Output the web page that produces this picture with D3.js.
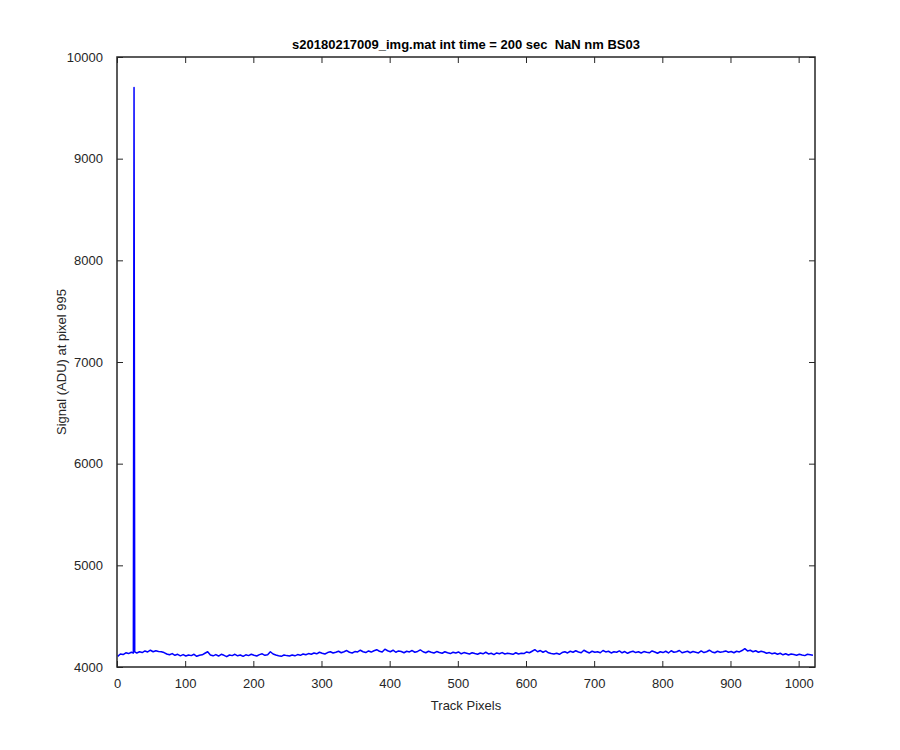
<!DOCTYPE html>
<html>
<head>
<meta charset="utf-8">
<script src="https://cdn.jsdelivr.net/npm/d3@7"></script>
<style>
  body { margin: 0; background: #ffffff; }
  svg { display: block; }
  text { font-family: "Liberation Sans", Arial, Helvetica, sans-serif; }
</style>
</head>
<body>
<svg id="chart" width="900" height="750"></svg>
<script>
// ---- data ----
const titleText = "s20180217009_img.mat int time = 200 sec  NaN nm BS03";
const xLabelText = "Track Pixels";
const yLabelText = "Signal (ADU) at pixel 995";
const xTicks = [0, 100, 200, 300, 400, 500, 600, 700, 800, 900, 1000];
const yTicks = [4000, 5000, 6000, 7000, 8000, 9000, 10000];
const xDomain = [0, 1024];
const yDomain = [4000, 10000];
// sampled every 4 track pixels, starting at pixel 1
const firstPixel = 1;
const pixelStep = 4;
const signal = [
  4105, 4128, 4122, 4140, 4132, 4145, 9700, 4138, 4150, 4142, 4158, 4148, 4165, 4150, 4160, 4152,
  4150, 4142, 4128, 4120, 4132, 4115, 4125, 4110, 4122, 4108, 4118, 4112, 4125, 4105, 4115, 4120,
  4135, 4150, 4118, 4110, 4122, 4108, 4125, 4115, 4102, 4118, 4112, 4125, 4110, 4118, 4105, 4120,
  4112, 4125, 4115, 4108, 4122, 4130, 4115, 4120, 4150, 4128, 4118, 4110, 4105, 4118, 4112, 4108,
  4118, 4110, 4122, 4115, 4128, 4120, 4132, 4125, 4138, 4130, 4145, 4135, 4128, 4142, 4150, 4138,
  4145, 4155, 4140, 4150, 4162, 4145, 4138, 4152, 4148, 4165, 4150, 4142, 4158, 4147, 4160, 4170,
  4155, 4148, 4175, 4160, 4150, 4165, 4145, 4158, 4152, 4140, 4155, 4148, 4162, 4145, 4153, 4168,
  4150, 4140, 4155, 4145, 4138, 4152, 4142, 4135, 4150, 4140, 4132, 4145, 4138, 4148, 4130, 4142,
  4135, 4128, 4140, 4132, 4125, 4138, 4130, 4145, 4128, 4135, 4122, 4138, 4130, 4142, 4128, 4135,
  4130, 4125, 4140, 4128, 4135, 4132, 4148, 4140, 4155, 4170, 4150, 4162, 4145, 4158, 4140, 4132,
  4128, 4135, 4125, 4142, 4150, 4138, 4155, 4145, 4160, 4148, 4140, 4165, 4150, 4138, 4155, 4145,
  4150, 4140, 4162, 4148, 4155, 4138, 4150, 4145, 4158, 4140, 4152, 4135, 4148, 4155, 4142, 4150,
  4138, 4152, 4145, 4140, 4158, 4148, 4135, 4150, 4142, 4155, 4138, 4160, 4145, 4150, 4162, 4140,
  4148, 4155, 4140, 4152, 4145, 4138, 4158, 4142, 4150, 4165, 4148, 4140, 4155, 4145, 4150, 4158,
  4145, 4152, 4140, 4155, 4148, 4162, 4180, 4158, 4165, 4150, 4160, 4145, 4155, 4148, 4135, 4142,
  4130, 4138, 4125, 4135, 4120, 4130, 4118, 4128, 4122, 4115, 4125, 4118, 4112, 4125, 4120, 4115
];
// extra samples right beside the spike (it is one pixel wide)
const spikeSidePixels = [24, 26];
const spikeSideSignal = [4138, 4148];

// ---- layout ----
const plot = { left: 117, right: 815, top: 57, bottom: 667 };
const axisColor = "#262626";
const tickLen = 6;

const svg = d3.select("#chart");
svg.append("rect").attr("width", 900).attr("height", 750).attr("fill", "#ffffff");

const x = d3.scaleLinear().domain(xDomain).range([plot.left, plot.right]);
const y = d3.scaleLinear().domain(yDomain).range([plot.bottom, plot.top]);

const points = signal.map((v, i) => ({ px: firstPixel + i * pixelStep, v }))
  .concat(spikeSidePixels.map((p, i) => ({ px: p, v: spikeSideSignal[i] })))
  .sort((a, b) => a.px - b.px);

// data line (clipped to the axes)
svg.append("clipPath").attr("id", "clip")
  .append("rect")
  .attr("x", plot.left).attr("y", plot.top)
  .attr("width", plot.right - plot.left).attr("height", plot.bottom - plot.top);

svg.append("path")
  .datum(points)
  .attr("clip-path", "url(#clip)")
  .attr("fill", "none")
  .attr("stroke", "#0000ff")
  .attr("stroke-width", 1.5)
  .attr("stroke-linejoin", "round")
  .attr("d", d3.line().x(d => x(d.px)).y(d => y(d.v)));

// axes
function styleAxis(g) {
  g.select(".domain").remove();
  g.selectAll(".tick line").attr("stroke", axisColor).attr("stroke-width", 1);
  g.selectAll(".tick text")
    .attr("fill", "#262626")
    .style("font-size", "13px");
}

const xAxisBottom = svg.append("g")
  .attr("transform", `translate(0,${plot.bottom})`)
  .call(d3.axisBottom(x).tickValues(xTicks).tickFormat(d3.format("d"))
    .tickSizeInner(-tickLen).tickSizeOuter(0).tickPadding(12));
styleAxis(xAxisBottom);

const xAxisTop = svg.append("g")
  .attr("transform", `translate(0,${plot.top})`)
  .call(d3.axisTop(x).tickValues(xTicks).tickFormat("")
    .tickSizeInner(-tickLen).tickSizeOuter(0));
styleAxis(xAxisTop);

const yAxisLeft = svg.append("g")
  .attr("transform", `translate(${plot.left},0)`)
  .call(d3.axisLeft(y).tickValues(yTicks).tickFormat(d3.format("d"))
    .tickSizeInner(-tickLen).tickSizeOuter(0).tickPadding(14));
styleAxis(yAxisLeft);

const yAxisRight = svg.append("g")
  .attr("transform", `translate(${plot.right},0)`)
  .call(d3.axisRight(y).tickValues(yTicks).tickFormat("")
    .tickSizeInner(-tickLen).tickSizeOuter(0));
styleAxis(yAxisRight);

// box
svg.append("rect")
  .attr("x", plot.left).attr("y", plot.top)
  .attr("width", plot.right - plot.left).attr("height", plot.bottom - plot.top)
  .attr("fill", "none").attr("stroke", axisColor).attr("stroke-width", 1.5);

// title & labels
svg.append("text")
  .attr("x", (plot.left + plot.right) / 2).attr("y", 49)
  .attr("text-anchor", "middle")
  .style("font-size", "13px").style("font-weight", "bold")
  .style("white-space", "pre")
  .attr("fill", "#000000")
  .text(titleText);

svg.append("text")
  .attr("x", (plot.left + plot.right) / 2).attr("y", 710)
  .attr("text-anchor", "middle")
  .style("font-size", "13px")
  .attr("fill", "#262626")
  .text(xLabelText);

svg.append("text")
  .attr("transform", `translate(66,${(plot.top + plot.bottom) / 2}) rotate(-90)`)
  .attr("text-anchor", "middle")
  .style("font-size", "13px")
  .attr("fill", "#262626")
  .text(yLabelText);
</script>
</body>
</html>
